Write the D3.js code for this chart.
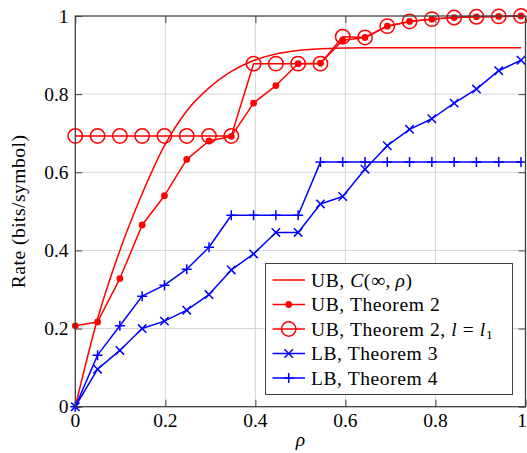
<!DOCTYPE html>
<html>
<head>
<meta charset="utf-8">
<script src="https://cdn.jsdelivr.net/npm/d3@7"></script>
<style>
    body { margin: 0; background: #fff; }
</style>
</head>
<body>
<svg class="svg-canvas" width="527" height="453"></svg>
<script>
    /**
     * Values of rho where every series is sampled
     */
    var rho = [0, 0.0495, 0.099, 0.1485, 0.198, 0.2475, 0.297, 0.3465, 0.396, 0.4455, 0.495,
               0.5445, 0.594, 0.6435, 0.693, 0.7425, 0.792, 0.8415, 0.891, 0.9405, 0.99];
    /**
     * UB, C(inf, rho)
     */
    var ubCapacity = [0, 0.225, 0.40, 0.545, 0.668, 0.757, 0.816, 0.858, 0.886, 0.903, 0.912,
                      0.916, 0.918, 0.919, 0.919, 0.919, 0.919, 0.919, 0.919, 0.919, 0.919];
    /**
     * UB, Theorem 2
     */
    var ubTheorem2 = [0.207, 0.217, 0.328, 0.465, 0.540, 0.633, 0.680, 0.692, 0.777, 0.822, 0.878,
                      0.879, 0.938, 0.945, 0.974, 0.986, 0.992, 0.996, 0.998, 0.999, 1.0];
    /**
     * UB, Theorem 2, l = l1
     */
    var ubTheorem2L1 = [0.693, 0.693, 0.693, 0.693, 0.693, 0.693, 0.693, 0.693, 0.878, 0.878, 0.878,
                        0.878, 0.947, 0.945, 0.974, 0.986, 0.992, 0.996, 0.998, 0.999, 1.0];
    /**
     * LB, Theorem 3
     */
    var lbTheorem3 = [0, 0.096, 0.144, 0.200, 0.219, 0.247, 0.287, 0.350, 0.391, 0.446, 0.446,
                      0.519, 0.538, 0.608, 0.668, 0.710, 0.737, 0.777, 0.813, 0.860, 0.887];
    /**
     * LB, Theorem 4
     */
    var lbTheorem4 = [0, 0.132, 0.207, 0.283, 0.311, 0.352, 0.408, 0.490, 0.490, 0.490, 0.490,
                      0.626, 0.626, 0.626, 0.626, 0.626, 0.626, 0.626, 0.626, 0.626, 0.626];
    /**
     * Tick labels for both axes
     */
    var tickValues = [0, 0.2, 0.4, 0.6, 0.8, 1];
    var tickLabels = ['0', '0.2', '0.4', '0.6', '0.8', '1'];

    var svg = d3.select('.svg-canvas');
    var x = d3.scaleLinear().domain([0, 1]).range([75.3, 525.5]);
    var y = d3.scaleLinear().domain([0, 1]).range([406.7, 16]);
    var red = '#ff0000';
    var blue = '#0000ff';
    var frameColor = '#404040';
    var fontFamily = 'Liberation Serif';
    var fontSize = 19.5;

    /**
     * Appends a text element in the serif font used throughout the chart
     */
    var addText = function(parent){
        return parent.append('text').attr('font-family', fontFamily)
            .attr('font-size', fontSize).attr('fill', '#000');
    };

    //Grid lines
    var grid = svg.append('g').classed('grid', true);
    grid.selectAll('.vgrid').data(tickValues.slice(1, -1)).enter().append('line')
        .attr('x1', function(d){return x(d);}).attr('x2', function(d){return x(d);})
        .attr('y1', y(0)).attr('y2', y(1))
        .attr('stroke', '#d6d6d6').attr('stroke-width', 1);
    grid.selectAll('.hgrid').data(tickValues.slice(1, -1)).enter().append('line')
        .attr('y1', function(d){return y(d);}).attr('y2', function(d){return y(d);})
        .attr('x1', x(0)).attr('x2', x(1))
        .attr('stroke', '#d6d6d6').attr('stroke-width', 1);

    //Axes with inward ticks on all four sides
    var tickLen = 7;
    var axes = [
        {gen: d3.axisBottom(x), t: 'translate(0,' + y(0) + ')'},
        {gen: d3.axisTop(x), t: 'translate(0,' + y(1) + ')'},
        {gen: d3.axisLeft(y), t: 'translate(' + x(0) + ',0)'},
        {gen: d3.axisRight(y), t: 'translate(' + x(1) + ',0)'}
    ];
    axes.forEach(function(a){
        var g = svg.append('g').attr('transform', a.t)
            .call(a.gen.tickValues(tickValues).tickSizeInner(-tickLen).tickSizeOuter(0).tickFormat(''));
        g.select('.domain').remove();
        g.selectAll('line').attr('stroke', frameColor).attr('stroke-width', 1);
    });

    //Tick labels (the last x label is kept inside the picture)
    var last = tickValues.length - 1;
    tickValues.forEach(function(d, i){
        addText(svg).attr('x', (i == last) ? 527 : x(d)).attr('y', 427)
            .attr('text-anchor', (i == last) ? 'end' : 'middle')
            .text(tickLabels[i]);
        addText(svg).attr('x', 68.5).attr('y', y(d) + 6.5)
            .attr('text-anchor', 'end')
            .text(tickLabels[i]);
    });

    //Axis labels
    addText(svg).attr('x', 300.5).attr('y', 446)
        .attr('text-anchor', 'middle').attr('font-style', 'italic')
        .text('ρ');
    addText(svg)
        .attr('transform', 'translate(25,' + ((y(0) + y(1)) / 2) + ') rotate(-90)')
        .attr('text-anchor', 'middle').attr('letter-spacing', 0.5)
        .text('Rate (bits/symbol)');

    /**
     * Draws a marker of the given kind centered at (cx, cy)
     */
    var drawMarker = function(g, kind, cx, cy, color){
        if(kind == 'dot'){
            g.append('circle').attr('cx', cx).attr('cy', cy).attr('r', 3.4).attr('fill', color);
        } else if(kind == 'circle'){
            g.append('circle').attr('cx', cx).attr('cy', cy).attr('r', 7.2)
                .attr('fill', 'none').attr('stroke', color).attr('stroke-width', 1.5);
        } else if(kind == 'x'){
            var s = 4.2;
            g.append('path').attr('d', 'M' + (cx - s) + ',' + (cy - s) + 'L' + (cx + s) + ',' + (cy + s)
                + 'M' + (cx - s) + ',' + (cy + s) + 'L' + (cx + s) + ',' + (cy - s))
                .attr('stroke', color).attr('stroke-width', 1.5);
        } else if(kind == 'plus'){
            var p = 5;
            g.append('path').attr('d', 'M' + (cx - p) + ',' + cy + 'L' + (cx + p) + ',' + cy
                + 'M' + cx + ',' + (cy - p) + 'L' + cx + ',' + (cy + p))
                .attr('stroke', color).attr('stroke-width', 1.5);
        }
    };

    var series = [
        {values: ubCapacity, color: red, marker: null, smooth: true},
        {values: ubTheorem2, color: red, marker: 'dot'},
        {values: ubTheorem2L1, color: red, marker: 'circle'},
        {values: lbTheorem3, color: blue, marker: 'x'},
        {values: lbTheorem4, color: blue, marker: 'plus'}
    ];

    //Draw every series: line first, then the markers on top
    series.forEach(function(s){
        var pts = rho.map(function(r, i){return [r, s.values[i]];});
        var line = d3.line()
            .x(function(d){return x(d[0]);}).y(function(d){return y(d[1]);})
            .curve(s.smooth ? d3.curveMonotoneX : d3.curveLinear);
        var g = svg.append('g');
        g.append('path').datum(pts).attr('d', line)
            .attr('fill', 'none').attr('stroke', s.color).attr('stroke-width', 1.5)
            .attr('stroke-linejoin', 'round');
        if(s.marker){
            pts.forEach(function(p){drawMarker(g, s.marker, x(p[0]), y(p[1]), s.color);});
        }
    });

    //Legend
    var legend = svg.append('g').classed('legend', true);
    legend.append('rect').attr('x', 265.5).attr('y', 263.5).attr('width', 247).attr('height', 131)
        .attr('fill', '#fff').attr('stroke', frameColor).attr('stroke-width', 1);
    var rowY = [280, 304.5, 329, 353.5, 378];
    series.forEach(function(s, i){
        legend.append('line').attr('x1', 272.5).attr('x2', 305).attr('y1', rowY[i]).attr('y2', rowY[i])
            .attr('stroke', s.color).attr('stroke-width', 1.5);
        if(s.marker) drawMarker(legend, s.marker, 288.7, rowY[i], s.color);
    });
    var legendText = function(i){
        return addText(legend).attr('x', 311).attr('y', rowY[i] + 6.5).attr('letter-spacing', 0.6);
    };
    var t0 = legendText(0);
    t0.append('tspan').text('UB, ');
    t0.append('tspan').attr('font-style', 'italic').text('C');
    t0.append('tspan').text('(∞,\u2009');
    t0.append('tspan').attr('font-style', 'italic').text('ρ');
    t0.append('tspan').text(')');
    legendText(1).text('UB, Theorem 2');
    var t2 = legendText(2);
    t2.append('tspan').text('UB, Theorem 2, ');
    t2.append('tspan').attr('font-style', 'italic').text('l');
    t2.append('tspan').text(' = ');
    t2.append('tspan').attr('font-style', 'italic').text('l');
    t2.append('tspan').attr('font-size', 13.5).attr('dy', 3).text('1');
    legendText(3).text('LB, Theorem 3');
    legendText(4).text('LB, Theorem 4');

    //Frame around the plot area
    svg.append('rect').attr('x', x(0)).attr('y', y(1))
        .attr('width', x(1) - x(0)).attr('height', y(0) - y(1))
        .attr('fill', 'none').attr('stroke', frameColor).attr('stroke-width', 1.3);
</script>
</body>
</html>
